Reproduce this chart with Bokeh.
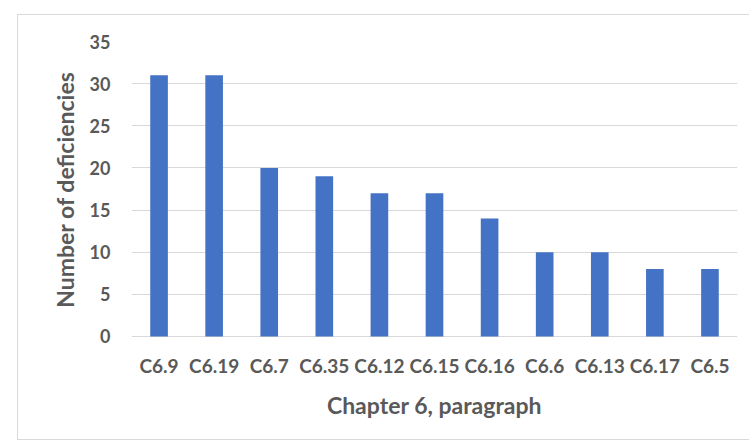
from bokeh.plotting import figure
from bokeh.models import FixedTicker, Range1d
from bokeh.embed import file_html
from bokeh.resources import INLINE

# Deficiencies per paragraph of Chapter 6
paragraphs = ["C6.9", "C6.19", "C6.7", "C6.35", "C6.12", "C6.15",
              "C6.16", "C6.6", "C6.13", "C6.17", "C6.5"]
deficiencies = [31, 31, 20, 19, 17, 17, 14, 10, 10, 8, 8]
y_ticks = [0, 5, 10, 15, 20, 25, 30, 35]

FONT = "Lato"
TEXT = "#595959"
GRID = "#d9d9d9"

p = figure(x_range=paragraphs, y_range=Range1d(-0.12, 35),
           width=732, height=426, margin=(14, 0, 0, 17),
           output_backend="svg", toolbar_location=None,
           min_border_left=113, min_border_right=13,
           min_border_top=26, min_border_bottom=104,
           styles={"border-left": f"1px solid {GRID}",
                   "border-top": f"1px solid {GRID}",
                   "border-bottom": f"1px solid {GRID}"})

p.vbar(x=paragraphs, top=deficiencies, width=0.32,
       fill_color="#4472c4", line_color=None)

p.outline_line_color = None
p.xgrid.grid_line_color = None
p.ygrid.grid_line_color = GRID
p.ygrid.grid_line_width = 1
p.x_range.range_padding = 0

p.yaxis.ticker = FixedTicker(ticks=y_ticks)
for ax in (p.xaxis, p.yaxis):
    ax.axis_line_color = None
    ax.major_tick_line_color = None
    ax.minor_tick_line_color = None
    ax.major_label_text_font = FONT
    ax.major_label_text_font_style = "bold"
    ax.major_label_text_color = TEXT
    ax.axis_label_text_font = FONT
    ax.axis_label_text_font_style = "bold"
    ax.axis_label_text_color = TEXT
    ax.axis_label_text_font_size = "23px"

p.xaxis.major_label_text_font_size = "19px"
p.yaxis.major_label_text_font_size = "18px"
p.xaxis.axis_label = "Chapter 6, paragraph"
p.yaxis.axis_label = "Number of deficiencies"
p.xaxis.major_label_standoff = 10
p.yaxis.major_label_standoff = 15
p.xaxis.axis_label_standoff = 11
p.yaxis.axis_label_standoff = 8

open("out.html", "w").write(file_html(p, INLINE))
